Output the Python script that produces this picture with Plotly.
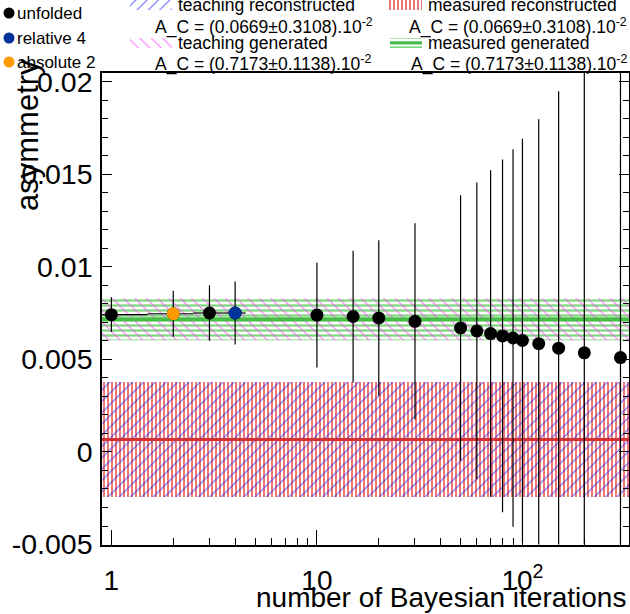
import math
import plotly.graph_objects as go

W, H = 630, 614
FL, FR, FT, FB = 102, 629, 73, 544.5   # frame in pixels

# ---------------- data ----------------
iterations = [1, 2, 3, 4, 10, 15, 20, 30, 50, 60, 70, 80, 90, 100, 120, 150, 200, 300]
asymmetry = [0.00742, 0.00747, 0.00751, 0.00751, 0.00740, 0.00732, 0.00724, 0.00706,
             0.00670, 0.00654, 0.00640, 0.00627, 0.00616, 0.00603, 0.00585, 0.00561,
             0.00536, 0.00510]
asym_err = [0.00094, 0.00124, 0.00150, 0.00170, 0.00283, 0.00356, 0.00420, 0.00530,
            0.00717, 0.00802, 0.00882, 0.00953, 0.01020, 0.01090, 0.01213, 0.01388,
            0.01700, 0.02000]
iter_err = [0.5] * len(iterations)

relative_iter = 4
absolute_iter = 2

gen_center, gen_err = 0.007173, 0.001138     # measured / teaching generated
reco_center, reco_err = 0.000669, 0.003108   # measured / teaching reconstructed

x_range = [0.9, 330]
y_range = [-0.005, 0.02048]
y_tickvals = [-0.005, 0, 0.005, 0.01, 0.015, 0.02]
y_ticktext = ["-0.005", "0", "0.005", "0.01", "0.015", "0.02"]
x_tickvals = [1, 10, 100]
x_ticktext = ["1", "10", "10<sup>2</sup>"]
x_minor = [2, 3, 4, 5, 6, 7, 8, 9, 20, 30, 40, 50, 60, 70, 80, 90, 200, 300]

FONT = "Liberation Sans, Arial, Helvetica, sans-serif"

fig = go.Figure()

def band(center, err, pattern, name):
    x0, x1 = x_range
    return go.Scatter(x=[x0, x1, x1, x0, x0],
                      y=[center - err, center - err, center + err, center + err, center - err],
                      mode="lines", line=dict(width=0), fill="toself",
                      fillcolor="rgba(0,0,0,0)", fillpattern=pattern,
                      hoverinfo="skip", showlegend=False, name=name)

red_pat = dict(shape="|", fgcolor="rgb(235,120,120)", fgopacity=1, bgcolor="rgba(0,0,0,0)",
               size=4, solidity=0.5, fillmode="overlay")
blue_pat = dict(shape="/", fgcolor="rgb(40,40,255)", fgopacity=0.75, bgcolor="rgba(0,0,0,0)",
                size=8, solidity=0.13, fillmode="overlay")
green_pat = dict(shape="-", fgcolor="rgb(125,215,125)", fgopacity=1, bgcolor="rgba(0,0,0,0)",
                 size=5, solidity=0.45, fillmode="overlay")
pink_pat = dict(shape="\\", fgcolor="rgb(255,80,255)", fgopacity=0.8, bgcolor="rgba(0,0,0,0)",
                size=8, solidity=0.14, fillmode="overlay")

fig.add_trace(band(reco_center, reco_err, red_pat, "measured reconstructed"))
fig.add_trace(band(reco_center, reco_err, blue_pat, "teaching reconstructed"))
fig.add_trace(band(gen_center, gen_err, green_pat, "measured generated"))
fig.add_trace(band(gen_center, gen_err, pink_pat, "teaching generated"))

fig.add_trace(go.Scatter(x=x_range, y=[reco_center] * 2, mode="lines",
                         line=dict(color="rgb(215,50,50)", width=3),
                         hoverinfo="skip", showlegend=False))
fig.add_trace(go.Scatter(x=x_range, y=[gen_center] * 2, mode="lines",
                         line=dict(color="rgb(70,190,70)", width=4),
                         hoverinfo="skip", showlegend=False))

fig.add_trace(go.Scatter(x=iterations, y=asymmetry, mode="markers",
                         marker=dict(color="black", size=13),
                         error_y=dict(type="data", array=asym_err, color="black",
                                      thickness=1.2, width=0),
                         error_x=dict(type="data", array=iter_err, color="black",
                                      thickness=1.2, width=0),
                         showlegend=False))
i_rel = iterations.index(relative_iter)
i_abs = iterations.index(absolute_iter)
fig.add_trace(go.Scatter(x=[iterations[i_rel]], y=[asymmetry[i_rel]], mode="markers",
                         marker=dict(color="rgb(0,51,153)", size=13), showlegend=False))
fig.add_trace(go.Scatter(x=[iterations[i_abs]], y=[asymmetry[i_abs]], mode="markers",
                         marker=dict(color="rgb(255,153,0)", size=13), showlegend=False))

# ---------------- legend (pixel overlay axes) ----------------
def icon(x0, x1, y0, y1, pattern, line=None):
    fig.add_trace(go.Scatter(x=[x0, x1, x1, x0, x0], y=[y0, y0, y1, y1, y0],
                             xaxis="x2", yaxis="y2", mode="lines", line=dict(width=0),
                             fill="toself", fillcolor="rgba(0,0,0,0)", fillpattern=pattern,
                             hoverinfo="skip", showlegend=False))
    if line:
        fig.add_trace(go.Scatter(x=[x0, x1], y=[(y0 + y1) / 2] * 2, xaxis="x2", yaxis="y2",
                                 mode="lines", line=line, hoverinfo="skip", showlegend=False))

icon(130, 172, 0, 10, blue_pat)
icon(388, 422, 0, 10, red_pat)
icon(130, 172, 38, 48, pink_pat)
icon(390, 422, 38, 48, green_pat, dict(color="rgb(70,190,70)", width=3))

leg_marker_y = [13, 38, 62]
leg_marker_c = ["black", "rgb(0,51,153)", "rgb(255,153,0)"]
leg_marker_t = ["unfolded", "relative 4", "absolute 2"]
fig.add_trace(go.Scatter(x=[9] * 3, y=leg_marker_y, xaxis="x2", yaxis="y2", mode="markers",
                         marker=dict(color=leg_marker_c, size=11), hoverinfo="skip",
                         showlegend=False))

ann = []
def txt(x, y, s, size=16, xanchor="left"):
    ann.append(dict(x=x, y=y, xref="x2", yref="y2", text=s, showarrow=False,
                    xanchor=xanchor, yanchor="middle",
                    font=dict(family=FONT, size=size, color="black")))

for yy, t in zip(leg_marker_y, leg_marker_t):
    txt(15, yy, t, 17)
reco_txt = "A_C = (%.4f\u00b1%.4f).10<sup>-2</sup>" % (reco_center * 100, reco_err * 100)
gen_txt = "A_C = (%.4f\u00b1%.4f).10<sup>-2</sup>" % (gen_center * 100, gen_err * 100)
txt(176, 5, "teaching reconstructed", 17.5)
txt(153, 26, reco_txt, 17.5)
txt(176, 43, "teaching generated", 17.5)
txt(153, 63, gen_txt, 17.5)
txt(426, 5, "measured reconstructed", 17.5)
txt(629, 26, reco_txt, 17.5, "right")
txt(426, 43, "measured generated", 17.5)
txt(629, 63, gen_txt, 17.5, "right")

# axis titles
ann.append(dict(x=628, y=597, xref="x2", yref="y2", text="number of Bayesian iterations",
                showarrow=False, xanchor="right", yanchor="middle",
                font=dict(family=FONT, size=28, color="black")))
ann.append(dict(x=27, y=135, xref="x2", yref="y2", text="asymmetry", textangle=-90,
                showarrow=False, xanchor="center", yanchor="middle",
                font=dict(family=FONT, size=31, color="black")))

fig.update_layout(
    width=W, height=H, margin=dict(l=0, r=0, t=0, b=0),
    paper_bgcolor="white", plot_bgcolor="rgba(0,0,0,0)",
    showlegend=False, annotations=ann,
    xaxis=dict(type="log", range=[math.log10(x_range[0]), math.log10(x_range[1])],
               domain=[FL / W, FR / W], anchor="y",
               showline=True, linecolor="black", linewidth=1.5, mirror=True,
               ticks="inside", ticklen=15, tickcolor="black", tickwidth=1,
               tickvals=x_tickvals, ticktext=x_ticktext, showgrid=False, zeroline=False,
               tickfont=dict(family=FONT, size=28, color="black"), ticklabelstandoff=10,
               minor=dict(ticks="inside", ticklen=7, tickcolor="black", tickwidth=1,
                          tickvals=x_minor, showgrid=False),
               automargin=False),
    yaxis=dict(range=y_range, domain=[1 - FB / H, 1 - FT / H], anchor="x",
               showline=True, linecolor="black", linewidth=1.5, mirror="ticks",
               ticks="inside", ticklen=10, tickcolor="black", tickwidth=1,
               tickvals=y_tickvals, ticktext=y_ticktext, showgrid=False, zeroline=False,
               tickfont=dict(family=FONT, size=28.5, color="black"), ticklabelstandoff=2,
               minor=dict(ticks="inside", ticklen=6, tickcolor="black", tickwidth=1,
                          dtick=0.001, tick0=0, showgrid=False),
               automargin=False),
    xaxis2=dict(domain=[0, 1], range=[0, W], anchor="y2", visible=False, fixedrange=True),
    yaxis2=dict(domain=[0, 1], range=[H, 0], anchor="x2", visible=False, fixedrange=True),
)

fig.write_html("out.html")
